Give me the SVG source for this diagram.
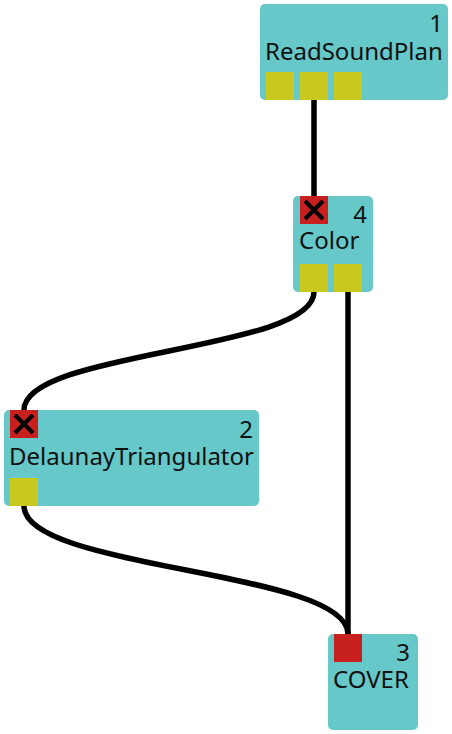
<svg xmlns="http://www.w3.org/2000/svg" width="452" height="734" viewBox="0 0 452 734">
<style>
.box{fill:#66c8c8}
.in{fill:#c8201e}
.out{fill:#c8c81e}
.x{stroke:#000;stroke-width:4;fill:none}
.lbl{font-family:"Noto Sans",sans-serif;font-size:24px;fill:#111}
.num{font-family:"Noto Sans",sans-serif;font-size:24px;fill:#111;text-anchor:end}
.edge{stroke:#000;stroke-width:5.5;fill:none}
</style>
<rect width="452" height="734" fill="#fff"/>
<g id="connectors">
<path class="edge" d="M314 100 L314 196"/>
<path class="edge" d="M314 292 C314 351 24 351 24 410"/>
<path class="edge" d="M348 292 L348 634"/>
<path class="edge" d="M24 506 C24 570 348 570 348 634"/>
</g>
<g id="node1">
<rect class="box" x="260" y="4" width="188" height="96" rx="5"/>
<text class="num" x="443" y="32">1</text>
<text class="lbl" x="265" y="60">ReadSoundPlan</text>
<rect class="out" x="266" y="72" width="28" height="28"/>
<rect class="out" x="300" y="72" width="28" height="28"/>
<rect class="out" x="334" y="72" width="28" height="28"/>
</g>
<g id="node4">
<rect class="box" x="293" y="196" width="80" height="96" rx="5"/>
<rect class="in" x="300" y="196" width="28" height="28"/>
<path class="x" d="M305 201 L323 219 M323 201 L305 219"/>
<text class="num" x="367" y="223">4</text>
<text class="lbl" x="299" y="249">Color</text>
<rect class="out" x="300" y="264" width="28" height="28"/>
<rect class="out" x="334" y="264" width="28" height="28"/>
</g>
<g id="node2">
<rect class="box" x="4" y="410" width="255" height="96" rx="5"/>
<rect class="in" x="10" y="410" width="28" height="28"/>
<path class="x" d="M15 415 L33 433 M33 415 L15 433"/>
<text class="num" x="253" y="438">2</text>
<text class="lbl" x="9" y="465">DelaunayTriangulator</text>
<rect class="out" x="10" y="478" width="28" height="28"/>
</g>
<g id="node3">
<rect class="box" x="328" y="634" width="90" height="96" rx="5"/>
<rect class="in" x="334" y="634" width="28" height="28"/>
<text class="num" x="410" y="661">3</text>
<text class="lbl" x="333" y="688">COVER</text>
</g>
</svg>
